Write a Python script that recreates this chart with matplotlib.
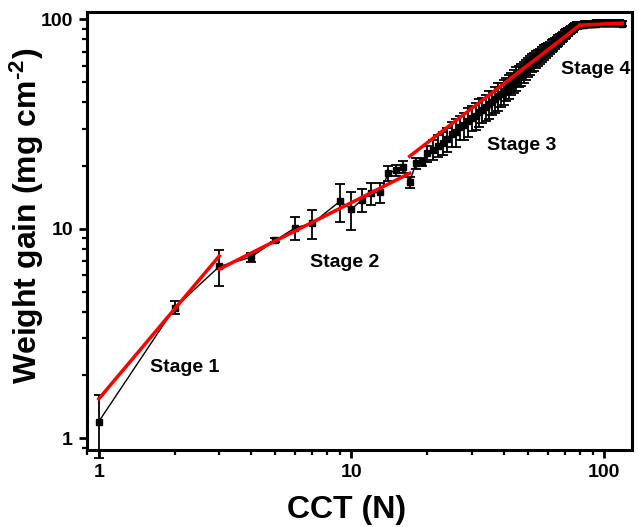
import numpy as np
import matplotlib.pyplot as plt
from matplotlib.ticker import FuncFormatter, NullFormatter, LogLocator

plt.rcParams['font.family'] = ['Liberation Sans', 'DejaVu Sans']
plt.rcParams['font.weight'] = 'bold'
plt.rcParams['mathtext.fontset'] = 'custom'
plt.rcParams['mathtext.rm'] = 'Liberation Sans:bold'
plt.rcParams['mathtext.bf'] = 'Liberation Sans:bold'
plt.rcParams['mathtext.default'] = 'bf'

# measured weight gain vs number of cycles
cycles = [1, 2, 3, 4, 5, 6, 7, 9, 10, 11, 12, 13, 14, 15, 16, 17] + list(range(18, 119))
gain = [1.2, 4.2, 6.6, 7.3, 8.8, 10.1, 10.6, 13.5, 12.4, 13.7, 14.8, 14.9, 18.4, 19.0, 19.7, 16.7,
        # 18 - 40
        20.5, 20.8, 22.9, 23.8, 24.9, 25.6, 26.8, 28.3, 28.9, 30.5, 31.2, 32.6, 33.8, 34.6, 36.1,
        37.0, 38.2, 39.4, 40.3, 41.6, 42.9, 43.8, 45.2,
        # 41 - 80
        46.6, 47.9, 49.5, 50.6, 52.1, 53.4, 54.8, 56.0, 57.5, 59.2, 60.3, 61.8, 62.9, 64.3, 65.6,
        66.8, 68.1, 69.5, 70.6, 71.9, 73.0, 74.4, 75.5, 76.8, 78.0, 79.3, 80.5, 81.9, 83.0, 84.4,
        85.6, 86.9, 88.1, 89.4, 90.6, 91.7, 92.6, 93.3, 93.8, 94.1,
        # 81 - 118
        93.6, 94.3, 94.1, 94.8, 94.5, 95.0, 94.6, 95.2, 94.9, 95.4, 95.1, 95.6, 95.3, 95.8, 95.5,
        95.9, 95.4, 96.0, 95.7, 96.1, 95.8, 96.2, 95.9, 96.3, 96.0, 95.8, 96.2, 95.9, 96.1, 95.7,
        96.0, 95.6, 95.9, 95.5, 95.8, 95.4, 95.6, 95.2]
err = [0.4, 0.3, 1.3, 0.35, 0.2, 1.3, 1.7, 2.8, 2.5, 1.7, 1.8, 1.7, 1.5, 1.2, 1.3, 1.0,
       1.2, 1.0, 2.0, 2.6, 3.0, 3.2, 3.5, 3.9, 4.3, 4.0, 4.6, 5.2, 4.5, 5.0, 5.6,
       5.0, 5.4, 6.0, 5.3, 5.8, 6.4, 5.6, 6.1,
       5.9, 6.5, 6.0, 6.4, 6.7, 6.2, 6.6, 6.3, 6.5, 6.1, 6.4, 6.0, 6.3, 5.8, 6.0,
       5.6, 5.8, 5.4, 5.5, 5.2, 5.0, 5.1, 4.8, 4.9, 4.6, 4.6, 4.4, 4.3, 4.2, 4.0,
       3.9, 3.8, 3.6, 3.5, 3.4, 3.3, 3.2, 3.1, 3.0, 3.0] + [2.8] * 38

# power-law fits per stage: y = a * x**b over [x0, x1]
stage_a = [1.54, 3.29, 1.593, 72.9]
stage_b = [1.43, 0.607, 0.929, 0.057]
stage_x0 = [1, 3, 17, 80]
stage_x1 = [3, 17, 80, 118]
stage_labels = ['Stage 1', 'Stage 2', 'Stage 3', 'Stage 4']
label_x = [2.19, 9.4, 47, 93]
label_y = [2.18, 6.9, 25, 57.7]

fig = plt.figure(figsize=(6.38, 5.27), dpi=100)
ax = fig.add_axes([0.136, 0.146, 0.8546, 0.831])

ax.errorbar(cycles, gain, yerr=err, fmt='s-', color='black', ms=4, lw=1.0,
            elinewidth=1.3, capsize=3.5, capthick=1.3, clip_on=False, zorder=2)

for a, b, x0, x1 in zip(stage_a, stage_b, stage_x0, stage_x1):
    xs = np.logspace(np.log10(x0), np.log10(x1), 50)
    ax.plot(xs, a * xs ** b, color='red', lw=2.5, zorder=3)

for t, tx, ty in zip(stage_labels, label_x, label_y):
    ax.text(tx, ty, t, fontsize=14, fontweight='bold', ha='center', va='center')

ax.set_xscale('log')
ax.set_yscale('log')
ax.set_xlim(0.896, 129)
ax.set_ylim(0.877, 108)

fmt = FuncFormatter(lambda v, p: '%g' % v)
for axis in (ax.xaxis, ax.yaxis):
    axis.set_major_locator(LogLocator(base=10))
    axis.set_minor_locator(LogLocator(base=10, subs=np.arange(2, 10)))
    axis.set_major_formatter(fmt)
    axis.set_minor_formatter(NullFormatter())

ax.tick_params(which='major', direction='out', length=6, width=2, labelsize=14, pad=4)
ax.tick_params(which='minor', direction='out', length=3.5, width=1.6)
for s in ax.spines.values():
    s.set_linewidth(2.2)

ax.set_xlabel('CCT (N)', fontsize=23, fontweight='bold')
ax.set_ylabel(r'Weight gain (mg cm$^{\text{-2}}$)', fontsize=23, fontweight='bold')
ax.xaxis.set_label_coords(0.477, -0.103)
ax.yaxis.set_label_coords(-0.075, 0.535)

fig.savefig('out.png', dpi=100)
